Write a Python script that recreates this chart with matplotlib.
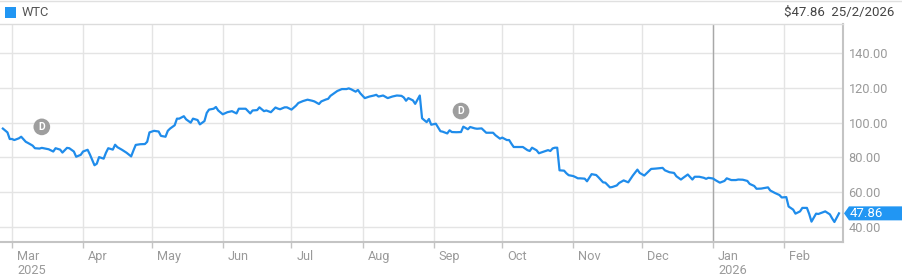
import matplotlib
matplotlib.use("Agg")
import matplotlib.pyplot as plt
import matplotlib.dates as mdates
import matplotlib.transforms as mtransforms
from matplotlib.patches import Polygon, Rectangle
from matplotlib.lines import Line2D
import pandas as pd

plt.rcParams['font.family'] = ['Roboto', 'DejaVu Sans']

# ---------------- data ----------------
ticker_name = "WTC"
last_price = 47.86
last_date_label = "25/2/2026"

dates = [
    "2025-02-25", "2025-02-27", "2025-02-28", "2025-03-01", "2025-03-02", "2025-03-04",
    "2025-03-05", "2025-03-07", "2025-03-08", "2025-03-10", "2025-03-11", "2025-03-13",
    "2025-03-14", "2025-03-16", "2025-03-17", "2025-03-19", "2025-03-20", "2025-03-22",
    "2025-03-23", "2025-03-25", "2025-03-26", "2025-03-28", "2025-03-29", "2025-03-31",
    "2025-04-01", "2025-04-03", "2025-04-04", "2025-04-06", "2025-04-07", "2025-04-08",
    "2025-04-10", "2025-04-11", "2025-04-12", "2025-04-14", "2025-04-15", "2025-04-16",
    "2025-04-18", "2025-04-20", "2025-04-22", "2025-04-23", "2025-04-24", "2025-04-26",
    "2025-04-28", "2025-04-29", "2025-04-30", "2025-05-02", "2025-05-04", "2025-05-05",
    "2025-05-07", "2025-05-08", "2025-05-09", "2025-05-11", "2025-05-12", "2025-05-13",
    "2025-05-15", "2025-05-16", "2025-05-18", "2025-05-19", "2025-05-21", "2025-05-22",
    "2025-05-24", "2025-05-25", "2025-05-26", "2025-05-28", "2025-05-29", "2025-05-30",
    "2025-06-01", "2025-06-03", "2025-06-05", "2025-06-07", "2025-06-08", "2025-06-11",
    "2025-06-13", "2025-06-14", "2025-06-16", "2025-06-17", "2025-06-19", "2025-06-20",
    "2025-06-22", "2025-06-24", "2025-06-25", "2025-06-26", "2025-06-28", "2025-06-29",
    "2025-07-01", "2025-07-03", "2025-07-04", "2025-07-06", "2025-07-08", "2025-07-10",
    "2025-07-11", "2025-07-13", "2025-07-14", "2025-07-16", "2025-07-17", "2025-07-18",
    "2025-07-20", "2025-07-21", "2025-07-23", "2025-07-25", "2025-07-26", "2025-07-27",
    "2025-07-29", "2025-07-30", "2025-07-31", "2025-08-02", "2025-08-04", "2025-08-06",
    "2025-08-07", "2025-08-08", "2025-08-10", "2025-08-12", "2025-08-14", "2025-08-16",
    "2025-08-18", "2025-08-19", "2025-08-20", "2025-08-21", "2025-08-23", "2025-08-24",
    "2025-08-26", "2025-08-27", "2025-08-29", "2025-08-30", "2025-08-31", "2025-09-02",
    "2025-09-04", "2025-09-05", "2025-09-07", "2025-09-08", "2025-09-09", "2025-09-11",
    "2025-09-13", "2025-09-14", "2025-09-16", "2025-09-17", "2025-09-19", "2025-09-20",
    "2025-09-22", "2025-09-24", "2025-09-27", "2025-09-28", "2025-09-30", "2025-10-01",
    "2025-10-03", "2025-10-04", "2025-10-05", "2025-10-06", "2025-10-08", "2025-10-10",
    "2025-10-12", "2025-10-13", "2025-10-14", "2025-10-16", "2025-10-17", "2025-10-19",
    "2025-10-21", "2025-10-22", "2025-10-23", "2025-10-24", "2025-10-25", "2025-10-26",
    "2025-10-28", "2025-10-29", "2025-10-30", "2025-11-01", "2025-11-02", "2025-11-03",
    "2025-11-04", "2025-11-06", "2025-11-07", "2025-11-09", "2025-11-11", "2025-11-12",
    "2025-11-14", "2025-11-15", "2025-11-17", "2025-11-18", "2025-11-20", "2025-11-21",
    "2025-11-23", "2025-11-25", "2025-11-27", "2025-11-29", "2025-11-30", "2025-12-02",
    "2025-12-04", "2025-12-05", "2025-12-07", "2025-12-10", "2025-12-11", "2025-12-13",
    "2025-12-15", "2025-12-16", "2025-12-18", "2025-12-19", "2025-12-21", "2025-12-23",
    "2025-12-24", "2025-12-26", "2025-12-28", "2025-12-29", "2025-12-30", "2026-01-01",
    "2026-01-02", "2026-01-04", "2026-01-06", "2026-01-07", "2026-01-09", "2026-01-11",
    "2026-01-12", "2026-01-14", "2026-01-16", "2026-01-17", "2026-01-19", "2026-01-20",
    "2026-01-22", "2026-01-25", "2026-01-26", "2026-01-28", "2026-01-30", "2026-01-31",
    "2026-02-02", "2026-02-03", "2026-02-05", "2026-02-06", "2026-02-08", "2026-02-09",
    "2026-02-11", "2026-02-12", "2026-02-13", "2026-02-15", "2026-02-16", "2026-02-18",
    "2026-02-19", "2026-02-21", "2026-02-22", "2026-02-23", "2026-02-25",
]

prices = [
    96.6, 94.4, 90.6, 90.6, 90.0, 91.0,
    91.9, 89.0, 88.3, 86.8, 85.3, 85.1,
    85.5, 85.0, 84.7, 83.4, 85.3, 84.5,
    82.8, 85.5, 85.3, 83.4, 80.4, 81.5,
    83.4, 84.4, 81.7, 75.5, 76.4, 80.2,
    79.3, 82.7, 85.3, 84.5, 87.3, 85.9,
    84.4, 82.7, 80.6, 84.0, 87.2, 87.6,
    87.7, 89.0, 94.4, 95.3, 94.9, 92.4,
    91.9, 95.3, 96.6, 98.5, 102.3, 102.3,
    103.7, 101.9, 100.0, 102.3, 101.5, 99.0,
    100.9, 105.6, 107.5, 108.0, 109.0, 107.0,
    104.8, 106.0, 106.6, 105.3, 108.0, 108.0,
    105.3, 107.0, 107.2, 108.8, 106.6, 107.0,
    106.0, 108.7, 108.1, 107.7, 108.8, 108.8,
    107.5, 109.8, 111.3, 112.4, 113.2, 112.6,
    112.2, 110.7, 112.2, 113.3, 113.7, 115.4,
    117.3, 118.2, 119.3, 119.3, 119.7, 119.2,
    117.8, 118.8, 116.9, 114.1, 115.0, 115.6,
    116.0, 115.0, 115.6, 114.1, 115.0, 115.6,
    115.4, 114.5, 112.6, 114.1, 112.8, 110.8,
    115.6, 102.5, 100.3, 102.1, 98.8, 99.4,
    95.1, 94.8, 93.8, 95.6, 94.6, 94.5,
    94.6, 97.7, 96.2, 97.5, 96.7, 96.5,
    96.7, 94.2, 94.2, 92.8, 90.8, 91.4,
    90.0, 90.0, 87.9, 86.0, 86.0, 86.0,
    84.2, 83.7, 85.6, 84.1, 82.4, 83.3,
    84.2, 83.7, 85.2, 85.6, 85.6, 72.6,
    72.4, 70.9, 69.8, 69.3, 68.7, 68.0,
    68.0, 67.8, 66.3, 70.4, 69.9, 68.6,
    65.7, 65.5, 62.8, 63.0, 63.9, 65.3,
    66.8, 65.7, 69.6, 73.0, 71.1, 69.6,
    72.1, 73.4, 73.6, 74.0, 72.6, 71.5,
    71.1, 69.2, 67.3, 68.3, 70.2, 67.3,
    68.9, 68.9, 68.3, 67.7, 68.3, 67.9,
    67.0, 65.5, 66.5, 68.0, 67.0, 67.0,
    67.3, 67.2, 66.5, 64.8, 63.6, 62.0,
    62.1, 62.8, 61.0, 59.6, 58.4, 57.0,
    57.2, 51.8, 50.0, 47.7, 49.0, 51.0,
    51.0, 47.5, 43.1, 47.7, 47.5, 48.5,
    49.0, 47.3, 45.0, 42.9, 47.86,
]

dividend_dates = ["2025-03-14", "2025-09-13"]
y_ticks = [40, 60, 80, 100, 120, 140]

# ---------------- styling ----------------
LINE_BLUE = "#1f8ceb"
TAG_BLUE = "#2196f3"
GRID = "#e4e4e4"
AXIS = "#c4c4c4"
LABEL = "#9a9a9a"

W, H = 902, 276
fig = plt.figure(figsize=(W / 100, H / 100), dpi=100)
ax = fig.add_axes([0, 34 / H, 843 / W, 218 / H])

x = pd.to_datetime(dates)
ax.plot(x, prices, color=LINE_BLUE, lw=1.6, solid_joinstyle='round', zorder=3)

ax.set_xlim(pd.Timestamp("2025-02-23 18:00"), pd.Timestamp("2026-02-26 18:00"))
ax.set_ylim(31.4, 156.7)

# y axis on the right
ax.yaxis.tick_right()
ax.set_yticks(y_ticks)
ax.set_yticklabels([f"{v:.2f}" for v in y_ticks])
ax.tick_params(axis='y', length=0, pad=4, labelsize=9.2, labelcolor=LABEL)

# x axis months
ax.xaxis.set_major_locator(mdates.MonthLocator())
def fmt(val, pos=None):
    d = mdates.num2date(val)
    s = d.strftime("%b")
    if d.month in (1,) or pos == 0:
        s += "\n" + d.strftime("%Y")
    return s
ax.xaxis.set_major_formatter(plt.FuncFormatter(fmt))
ax.tick_params(axis='x', length=4, width=1, color=AXIS, pad=1.5,
               labelsize=9.2, labelcolor=LABEL)
offset = mtransforms.ScaledTranslation(5 / 100, 0, fig.dpi_scale_trans)
fig.canvas.draw()
for lab in ax.get_xticklabels():
    lab.set_horizontalalignment('left')
    lab.set_transform(lab.get_transform() + offset)
    lab.set_linespacing(1.15)

# grid
ax.grid(True, color=GRID, lw=1.0, zorder=0)
ax.set_axisbelow(True)
for tk in ax.get_xticks():
    d = mdates.num2date(tk)
    if d.month == 1:
        ax.axvline(tk, color="#a8a8a8", lw=1.0, zorder=1)

ax.spines['left'].set_visible(False)
ax.spines['top'].set_color("#dcdcdc")
ax.spines['top'].set_linewidth(1.0)
ax.spines['right'].set_color(AXIS)
ax.spines['right'].set_linewidth(1.5)
ax.spines['bottom'].set_color(AXIS)
ax.spines['bottom'].set_linewidth(1.5)

# dividend markers
price_series = pd.Series(prices, index=x)
for dd in dividend_dates:
    t = pd.Timestamp(dd)
    yv = price_series.iloc[price_series.index.get_indexer([t], method='nearest')[0]]
    ax.annotate("D", xy=(t, yv), xytext=(0, 21), textcoords='offset pixels',
                ha='center', va='center', color='white', fontsize=7.5, fontweight='bold',
                bbox=dict(boxstyle='circle,pad=0.32', fc='#9e9e9e', ec='none'), zorder=4)

# header
fig.add_artist(Line2D([0, 1], [1 - 0.8 / H, 1 - 0.8 / H], transform=fig.transFigure,
                      color="#e0e0e0", lw=1.0))
fig.add_artist(Rectangle((5 / W, 1 - 18 / H), 11 / W, 11 / H, transform=fig.transFigure,
                         fc=TAG_BLUE, ec='none'))
fig.text(22 / W, 1 - 12.5 / H, ticker_name, ha='left', va='center', fontsize=9.3,
         color="#555555")
fig.text(894 / W, 1 - 12.5 / H, f"${last_price:.2f}  {last_date_label}", ha='right',
         va='center', fontsize=9.5, color="#444444")

# last price tag
fig.canvas.draw()
y_disp = ax.transData.transform((0, last_price))[1]
x_disp = ax.transAxes.transform((1, 0))[0]
h = 14
tag = Polygon([[x_disp + 1, y_disp], [x_disp + 6, y_disp + h / 2], [W, y_disp + h / 2],
               [W, y_disp - h / 2], [x_disp + 6, y_disp - h / 2]], closed=True,
              transform=None, fc=TAG_BLUE, ec='none')
fig.add_artist(tag)
fig.text((x_disp + 7) / W, y_disp / H, f"{last_price:.2f}", ha='left', va='center',
         fontsize=9.5, color='white')

fig.savefig("out.png", dpi=100)
